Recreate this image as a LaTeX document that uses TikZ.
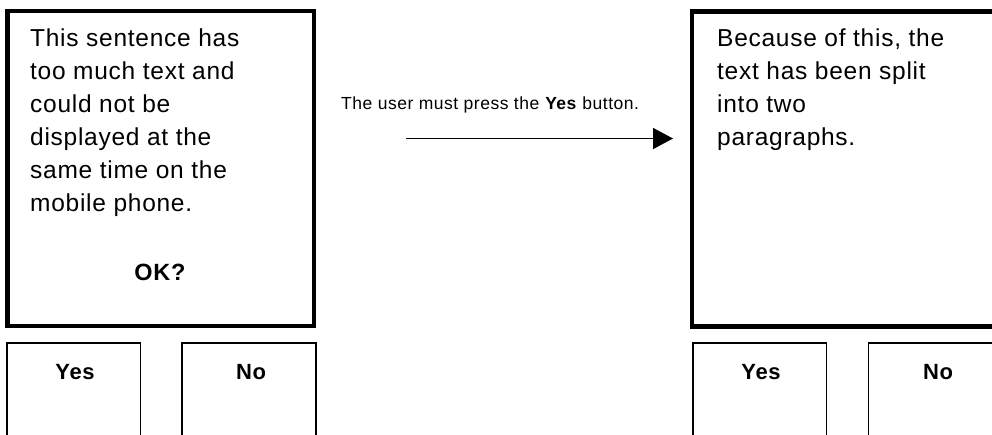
\documentclass[tikz,border=0pt]{standalone}
\usepackage{fontspec}
\setmainfont{Liberation Sans}[LetterSpace=3]
\usetikzlibrary{arrows.meta}
\begin{document}
\begin{tikzpicture}[x=1pt,y=-1pt,
  screen/.style={draw, line width=4.5pt, inner sep=0pt, outer sep=0pt, minimum height=315pt},
  btn/.style={draw, line width=1.6pt, inner sep=0pt, outer sep=0pt, minimum height=120pt},
  bodytext/.style={font=\fontsize{24.5}{33}\selectfont, align=left, inner sep=0pt, anchor=north west},
  btntext/.style={font=\fontsize{22}{26}\selectfont\bfseries, inner sep=0pt, anchor=base},
  conn/.style={line width=1.5pt, -{Triangle[length=20pt,width=21pt]}}]
\useasboundingbox (0,0) rectangle (992,434);
\clip (0,0) rectangle (992,434);
% screens
\node[screen, minimum width=306.5pt] (scrL) at (160.75,168.5) {};
\node[screen, minimum width=308pt] (scrR) at (846,168.75) {};
% screen texts
\node[bodytext] (txtL) at (30,29) {This sentence has\\too much text and\\could not be\\displayed at the\\same time on the\\mobile phone.};
\node[font=\fontsize{23.5}{28}\selectfont\bfseries, inner sep=0pt, anchor=base] (ok) at (160,280) {OK?};
\node[bodytext] (txtR) at (717,29) {Because of this, the\\text has been split\\into two\\paragraphs.};
% buttons
\node[btn, minimum width=133.1pt] (yesL) at (73.75,402.8) {};
\node[btn, minimum width=134pt] (noL) at (249.2,402.8) {};
\node[btn, minimum width=133.7pt] (yesR) at (759.65,402.8) {};
\node[btn, minimum width=131.5pt] (noR) at (934.25,402.8) {};
\node[btntext] (yesLt) at (75,379) {Yes};
\node[btntext] (noLt) at (251,379) {No};
\node[btntext] (yesRt) at (761,379) {Yes};
\node[btntext] (noRt) at (938,379) {No};
% transition
\node[anchor=base west, font=\fontsize{17.5}{21}\selectfont, inner sep=0pt] (lbl) at (341,109) {The user must press the \textbf{Yes} button.};
\coordinate (a0) at (406,138.5);
\coordinate (a1) at (673,138.5);
\draw[conn] (a0) -- (a1);
\end{tikzpicture}
\end{document}
